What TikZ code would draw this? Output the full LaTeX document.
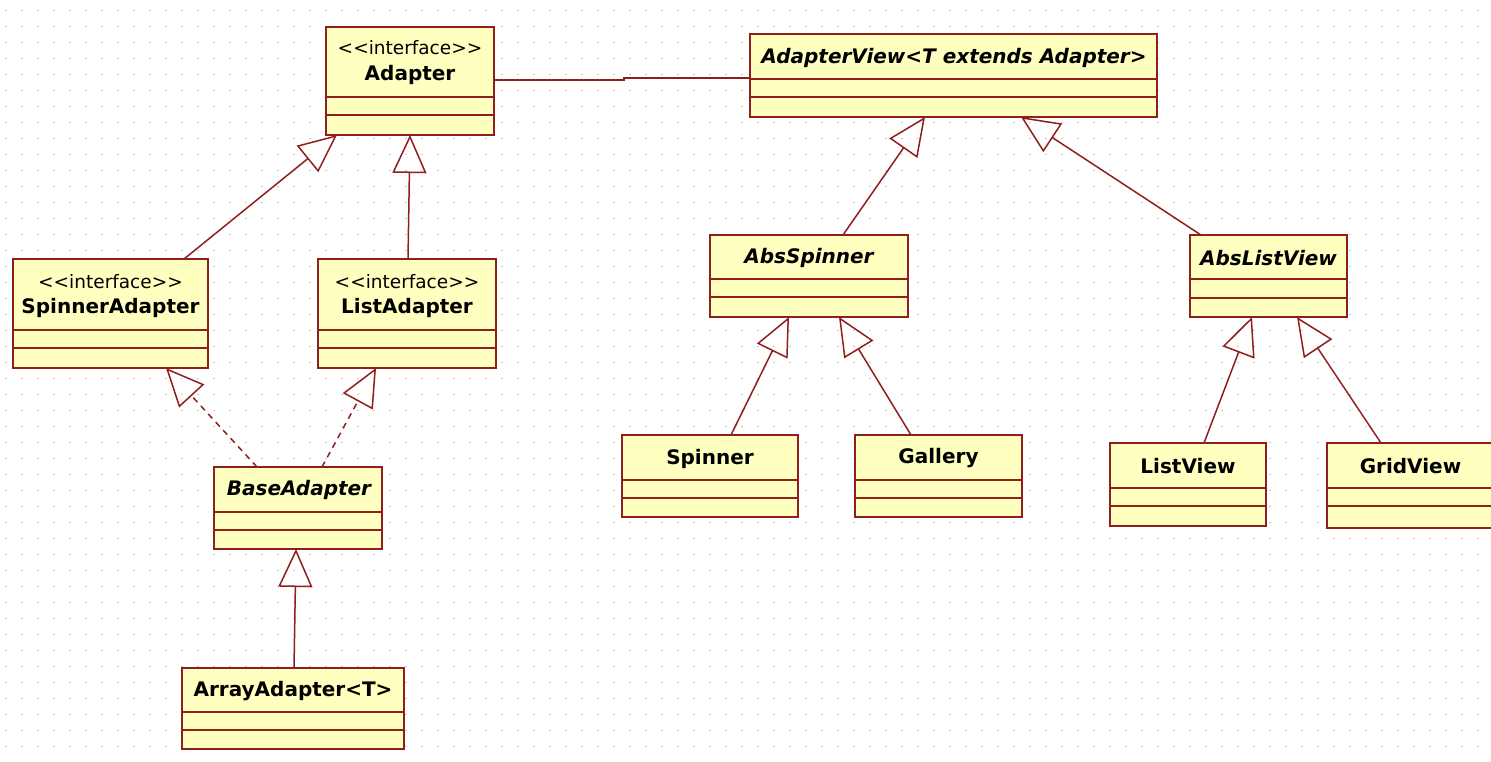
\documentclass[tikz,border=0pt]{standalone}
\usepackage{fontspec}
\setmainfont{DejaVu Sans}
\usetikzlibrary{arrows.meta,calc}
\definecolor{umlred}{RGB}{145,30,30}
\definecolor{umlfill}{RGB}{255,255,192}
\definecolor{dotgray}{RGB}{200,200,200}
\tikzset{
  cls/.style={draw=umlred, fill=umlfill, line width=2pt, rectangle, inner sep=0pt, outer sep=0pt, anchor=north west},
  sepline/.style={draw=umlred, line width=2pt},
  ttl/.style={font=\fontsize{20}{24}\selectfont\bfseries, inner sep=0pt, text=black},
  ttli/.style={font=\fontsize{20}{24}\selectfont\bfseries\itshape, inner sep=0pt, text=black},
  ster/.style={font=\fontsize{18.5}{22}\selectfont, inner sep=0pt, text=black},
  gen/.style={draw=umlred, line width=1.5pt, -{Triangle[open, length=38pt, width=34pt]}},
  realz/.style={gen, dash pattern=on 6pt off 5pt},
  assoc/.style={draw=umlred, line width=1.5pt},
}
\newcommand\stereo{<\kern0pt<interface>\kern0pt>}
% name, x1, y1, x2, y2, l1, l2
\newcommand\umlbox[7]{%
  \node[cls, minimum width={#4pt-#2pt}, minimum height={#5pt-#3pt}] (#1) at (#2,#3) {};
  \draw[sepline] (#2,#6) -- (#4,#6) (#2,#7) -- (#4,#7);
}
\begin{document}
\begin{tikzpicture}[x=1pt,y=-1pt]
\useasboundingbox (0,0) rectangle (1491,761);
\clip (0,0) rectangle (1491,761);
\fill[white] (0,0) rectangle (1491,761);
% dotted grid
\foreach \gx in {6,22,...,1494} {
  \foreach \gy in {10.5,26.5,...,762} {
    \fill[dotgray] (\gx-0.9,\gy-0.9) rectangle (\gx+0.9,\gy+0.9);
  }
}
% classes
\umlbox{ad}{326}{27}{494}{135}{97}{115}
\node[ster] (ad-s) at (410,48) {\stereo};
\node[ttl] (ad-t) at (410,75) {Adapter};

\umlbox{av}{750}{34}{1157}{117}{79}{97}
\node[ttli] (av-t) at (954,58) {AdapterView<T extends Adapter>};

\umlbox{sa}{13}{259}{208}{368}{330}{348}
\node[ster] (sa-s) at (110.5,282) {\stereo};
\node[ttl] (sa-t) at (110.5,308) {SpinnerAdapter};

\umlbox{la}{318}{259}{496}{368}{330}{348}
\node[ster] (la-s) at (407,282) {\stereo};
\node[ttl] (la-t) at (407,308) {ListAdapter};

\umlbox{ba}{214}{467}{382}{549}{512}{530}
\node[ttli] (ba-t) at (299,490) {BaseAdapter};

\umlbox{aa}{182}{668}{404}{749}{712}{730}
\node[ttl] (aa-t) at (293,691) {ArrayAdapter<T>};

\umlbox{as}{710}{235}{908}{317}{279}{297}
\node[ttli] (as-t) at (809,258) {AbsSpinner};

\umlbox{alv}{1190}{235}{1347}{317}{279}{298}
\node[ttli] (alv-t) at (1268.5,258) {AbsListView};

\umlbox{sp}{622}{435}{798}{517}{480}{498}
\node[ttl] (sp-t) at (710,458.5) {Spinner};

\umlbox{ga}{855}{435}{1022}{517}{480}{498}
\node[ttl] (ga-t) at (938.5,458.5) {Gallery};

\umlbox{lv}{1110}{443}{1266}{526}{488}{506}
\node[ttl] (lv-t) at (1188,466.5) {ListView};

\umlbox{gv}{1327}{443}{1494}{528}{488}{506}
\node[ttl] (gv-t) at (1410.5,466.5) {GridView};

% association
\draw[assoc] ($(ad.north east)+(0,53)$) -| ($(av.north west)+(-126,44)$) -- ($(av.north west)+(0,44)$);

% generalizations / realizations
\draw[gen] ($(sa.north west)+(171,0)$) -- ($(ad.south west)+(11,0)$);
\draw[gen] ($(la.north west)+(90,0)$) -- ($(ad.south west)+(84,0)$);
\draw[realz] ($(ba.north west)+(43,0)$) -- ($(sa.south west)+(153,0)$);
\draw[realz] ($(ba.north west)+(108,0)$) -- ($(la.south west)+(58,0)$);
\draw[gen] ($(aa.north west)+(112,0)$) -- ($(ba.south west)+(82,0)$);
\draw[gen] ($(as.north west)+(133,0)$) -- ($(av.south west)+(175,0)$);
\draw[gen] ($(alv.north west)+(11,0)$) -- ($(av.south west)+(271,0)$);
\draw[gen] ($(sp.north west)+(109,0)$) -- ($(as.south west)+(79,0)$);
\draw[gen] ($(ga.north west)+(56,0)$) -- ($(as.south west)+(129,0)$);
\draw[gen] ($(lv.north west)+(94,0)$) -- ($(alv.south west)+(62,0)$);
\draw[gen] ($(gv.north west)+(54,0)$) -- ($(alv.south west)+(107,0)$);
\end{tikzpicture}
\end{document}
